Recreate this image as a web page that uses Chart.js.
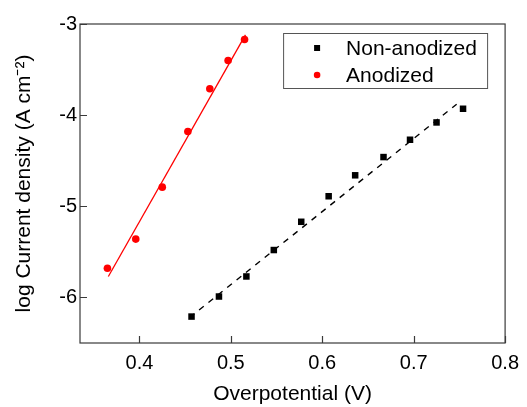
<!DOCTYPE html>
<html>
<head>
<meta charset="utf-8">
<script src="https://cdn.jsdelivr.net/npm/chart.js@4/dist/chart.umd.min.js"></script>
<style>
  html, body { margin: 0; padding: 0; background: #fff; }
  #c { display: block; }
</style>
</head>
<body>
<canvas id="c" width="527" height="407"></canvas>
<script>
// ---- data ----
const seriesNames = ["Non-anodized", "Anodized"];
const nonAnodizedX = [0.457, 0.487, 0.517, 0.547, 0.577, 0.607, 0.636, 0.667, 0.696, 0.725, 0.754];
const nonAnodizedY = [-6.21, -5.99, -5.77, -5.48, -5.17, -4.89, -4.66, -4.46, -4.27, -4.08, -3.93];
const anodizedX = [0.365, 0.396, 0.425, 0.453, 0.477, 0.497, 0.515];
const anodizedY = [-5.68, -5.36, -4.79, -4.18, -3.71, -3.40, -3.17];
const nonAnodizedFitX = [0.455, 0.747];
const nonAnodizedFitY = [-6.22, -3.88];
const anodizedFitX = [0.366, 0.516];
const anodizedFitY = [-5.77, -3.12];
const xTicks = [0.4, 0.5, 0.6, 0.7, 0.8];
const yTicks = [-6, -5, -4, -3];
const xTitle = "Overpotential (V)";
const yTitle = "log Current density (A cm\u207B\u00B2)";

const pts = (xs, ys) => xs.map((x, i) => ({ x: x, y: ys[i] }));
const FONT = "'Liberation Sans', Arial, sans-serif";

const framePlugin = {
  id: 'frameTicks',
  afterDraw(chart) {
    const ctx = chart.ctx, a = chart.chartArea;
    const xs = chart.scales.x, ys = chart.scales.y;
    ctx.save();
    ctx.strokeStyle = '#3a3a3a';
    ctx.lineWidth = 1.2;
    ctx.strokeRect(a.left, a.top, a.right - a.left, a.bottom - a.top);
    ctx.beginPath();
    xs.ticks.forEach(t => {
      const px = Math.round(xs.getPixelForValue(t.value)) + 0.5;
      ctx.moveTo(px, a.bottom); ctx.lineTo(px, a.bottom - 7);
    });
    ys.ticks.forEach(t => {
      const py = Math.round(ys.getPixelForValue(t.value)) + 0.5;
      ctx.moveTo(a.left, py); ctx.lineTo(a.left + 7, py);
    });
    ctx.stroke();

    // legend box
    const bx = a.right - 222, by = a.top + 9, bw = 204, bh = 55;
    ctx.lineWidth = 1;
    ctx.strokeStyle = '#555';
    ctx.fillStyle = '#fff';
    ctx.fillRect(bx, by, bw, bh);
    ctx.strokeRect(bx + 0.5, by + 0.5, bw, bh);
    const items = chart.data.datasets.filter(d => d.inLegend);
    items.forEach((d, i) => {
      const cy = by + 15 + i * 27;
      const mx = bx + 34;
      ctx.fillStyle = d.pointBackgroundColor;
      if (d.pointStyle === 'rect') {
        ctx.fillRect(mx - 3, cy - 3, 6, 6);
      } else {
        ctx.beginPath(); ctx.arc(mx, cy, 3.3, 0, Math.PI * 2); ctx.fill();
      }
      ctx.fillStyle = '#000';
      ctx.font = '21px ' + FONT;
      ctx.textBaseline = 'middle';
      ctx.textAlign = 'left';
      ctx.fillText(d.label, bx + 63, cy + 1);
    });
    ctx.restore();
  }
};

new Chart(document.getElementById('c'), {
  type: 'scatter',
  data: {
    datasets: [
      { label: seriesNames[0], inLegend: true, data: pts(nonAnodizedX, nonAnodizedY),
        pointStyle: 'rect', pointRadius: 4.6, pointBackgroundColor: '#000', pointBorderWidth: 0,
        borderColor: '#000', showLine: false },
      { label: seriesNames[1], inLegend: true, data: pts(anodizedX, anodizedY),
        pointStyle: 'circle', pointRadius: 3.8, pointBackgroundColor: '#ff0000', pointBorderWidth: 0,
        borderColor: '#ff0000', showLine: false },
      { label: 'fit1', data: pts(nonAnodizedFitX, nonAnodizedFitY), showLine: true,
        borderColor: '#000', borderWidth: 1.4, borderDash: [6, 6], pointRadius: 0 },
      { label: 'fit2', data: pts(anodizedFitX, anodizedFitY), showLine: true,
        borderColor: '#ff0000', borderWidth: 1.3, pointRadius: 0 }
    ]
  },
  options: {
    responsive: false,
    animation: false,
    devicePixelRatio: 1,
    layout: { padding: { top: 24, right: 15, left: 0, bottom: 0 } },
    plugins: { legend: { display: false }, tooltip: { enabled: false } },
    scales: {
      x: {
        type: 'linear', min: 0.335, max: 0.8,
        afterBuildTicks: s => { s.ticks = xTicks.map(v => ({ value: v })); },
        afterFit: s => { s.height = 64; },
        grid: { display: false, drawTicks: false },
        border: { display: false },
        ticks: { color: '#000', font: { family: FONT, size: 20 }, padding: 8,
                 callback: v => v.toFixed(1), maxRotation: 0 },
        title: { display: true, text: xTitle, color: '#000', font: { family: FONT, size: 21 },
                 padding: { top: 0, bottom: 0 } }
      },
      y: {
        type: 'linear', min: -6.5, max: -3,
        afterBuildTicks: s => { s.ticks = yTicks.map(v => ({ value: v })); },
        afterFit: s => { s.width = 80; },
        grid: { display: false, drawTicks: false },
        border: { display: false },
        ticks: { color: '#000', font: { family: FONT, size: 20 }, padding: 3,
                 callback: v => String(v) },
        title: { display: true, text: yTitle, color: '#000', font: { family: FONT, size: 21 },
                 padding: { top: 12, bottom: 0 } }
      }
    }
  },
  plugins: [framePlugin]
});
</script>
</body>
</html>
